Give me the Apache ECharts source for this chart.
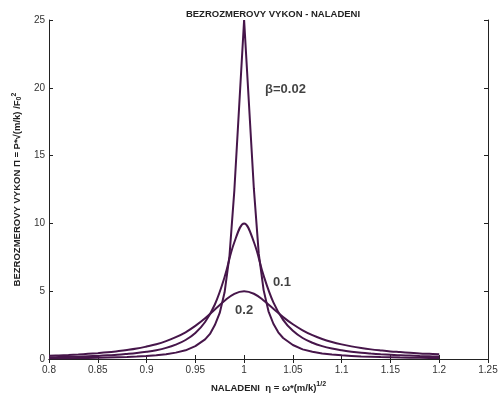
<!DOCTYPE html>
<html>
<head>
<meta charset="utf-8">
<script src="https://cdn.jsdelivr.net/npm/echarts@6/dist/echarts.min.js"></script>
<style>
html,body{margin:0;padding:0;background:#fff;}
#c{width:501px;height:398px;}
</style>
</head>
<body>
<div id="c"></div>
<script>
const eta = [0.80,0.81,0.82,0.83,0.84,0.85,0.86,0.87,0.88,0.89,0.90,0.91,0.92,0.93,0.94,0.95,0.96,0.97,0.98,0.99,1.00,
             1.01,1.02,1.03,1.04,1.05,1.06,1.07,1.08,1.09,1.10,1.11,1.12,1.13,1.14,1.15,1.16,1.17,1.18,1.19,1.20];
const etaA = [0.80,0.81,0.82,0.83,0.84,0.85,0.86,0.87,0.88,0.89,0.90,0.91,0.92,0.93,0.94,0.95,0.96,0.965,0.97,0.975,0.98,0.985,0.99,1.00,
              1.01,1.015,1.02,1.025,1.03,1.035,1.04,1.05,1.06,1.07,1.08,1.09,1.10,1.11,1.12,1.13,1.14,1.15,1.16,1.17,1.18,1.19,1.20];
const beta002 = [0.05,0.06,0.06,0.07,0.08,0.09,0.11,0.13,0.15,0.18,0.22,0.28,0.35,0.47,0.64,0.95,1.45,1.85,2.5,3.4,4.92,7.61,12.44,25,
                 12.56,7.77,5.08,3.52,2.6,1.97,1.55,1.03,0.71,0.53,0.41,0.33,0.27,0.23,0.19,0.17,0.14,0.13,0.11,0.10,0.09,0.08,0.07];
const beta01 = [0.12,0.14,0.15,0.17,0.20,0.23,0.27,0.31,0.37,0.44,0.53,0.65,0.82,1.06,1.40,1.92,2.73,4.02,6.05,8.61,10,
                8.63,6.15,4.17,2.89,2.08,1.55,1.20,0.95,0.77,0.64,0.54,0.46,0.40,0.35,0.31,0.27,0.25,0.22,0.20,0.18];
const beta02 = [0.24,0.26,0.29,0.33,0.38,0.43,0.49,0.57,0.66,0.77,0.92,1.09,1.32,1.61,1.97,2.44,3.00,3.65,4.30,4.81,5,
                4.81,4.32,3.70,3.09,2.56,2.12,1.76,1.48,1.26,1.08,0.93,0.81,0.71,0.63,0.56,0.51,0.46,0.41,0.38,0.35];
const curveLabels = ['\u03b2=0.02', '0.1', '0.2'];
const labelX = [1.0215, 1.0295, 1.0];
const labelY = [19.9, 5.65, 3.55];
const xTicks = [0.8,0.85,0.9,0.95,1,1.05,1.1,1.15,1.2,1.25];
const yTicks = [0,5,10,15,20,25];

const FONT = '"Liberation Sans", Arial, sans-serif';
const LINE = '#46164a';
const AX = '#222';

function pairs(xs, ys){ return xs.map((x,i)=>[x, ys[i]]); }

const chart = echarts.init(document.getElementById('c'), null, {renderer:'canvas'});
const axisCommon = {
  axisLine:{show:true, lineStyle:{color:AX, width:1}},
  axisTick:{show:true, inside:true, length:4, lineStyle:{color:AX}},
  splitLine:{show:false}
};
chart.setOption({
  animation:false,
  backgroundColor:'#fff',
  title:{
    text:'BEZROZMEROVY VYKON - NALADENI',
    left:268, top:4, textAlign:'center',
    textStyle:{fontFamily:FONT, fontSize:9.5, fontWeight:'bold', color:'#222'}
  },
  grid:{left:49, right:13, top:20, bottom:36, containLabel:false},
  xAxis:[
    Object.assign({
      type:'value', min:xTicks[0], max:xTicks[xTicks.length-1], interval:0.05, position:'bottom',
      axisLabel:{fontFamily:FONT, fontSize:10, color:'#333', margin:6,
        formatter:v=>String(+v.toFixed(2))},
      name:'NALADENI  \u03b7 = \u03c9*(m/k){sup|1/2}',
      nameLocation:'middle', nameGap:22,
      nameTextStyle:{fontFamily:FONT, fontSize:9.5, fontWeight:'bold', color:'#222',
        rich:{sup:{fontFamily:FONT, fontSize:7, fontWeight:'bold', color:'#222', padding:[0,0,7,0]}}}
    }, axisCommon),
    Object.assign({
      type:'value', min:xTicks[0], max:xTicks[xTicks.length-1], interval:0.05, position:'top',
      axisLabel:{show:false}
    }, axisCommon)
  ],
  yAxis:[
    Object.assign({
      type:'value', min:yTicks[0], max:yTicks[yTicks.length-1], interval:5, position:'left',
      axisLabel:{fontFamily:FONT, fontSize:10, color:'#333', margin:4},
      name:'BEZROZMEROVY VYKON \u03a0 = P*\u221a(m/k) /F{sub|0}{sup|2}',
      nameLocation:'middle', nameGap:12, nameRotate:90,
      nameTextStyle:{fontFamily:FONT, fontSize:9.5, fontWeight:'bold', color:'#222', padding:[0,0,0,0],
        rich:{sup:{fontFamily:FONT, fontSize:7, fontWeight:'bold', color:'#222', padding:[0,0,7,0]},
              sub:{fontFamily:FONT, fontSize:7, fontWeight:'bold', color:'#222', padding:[4,0,0,0]}}}
    }, axisCommon),
    Object.assign({
      type:'value', min:yTicks[0], max:yTicks[yTicks.length-1], interval:5, position:'right',
      axisLabel:{show:false}
    }, axisCommon)
  ],
  series:[
    {type:'line', data:pairs(etaA, beta002), showSymbol:false, smooth:false,
     lineStyle:{color:LINE, width:2}, z:3},
    {type:'line', data:pairs(eta, beta01), showSymbol:false, smooth:0.4,
     lineStyle:{color:LINE, width:2}, z:3},
    {type:'line', data:pairs(eta, beta02), showSymbol:false, smooth:0.4,
     lineStyle:{color:LINE, width:2}, z:3},
    {type:'scatter', symbolSize:0, silent:true, z:5,
     data:curveLabels.map((t,i)=>({value:[labelX[i], labelY[i]], name:t,
       label:{align: i===2 ? 'center' : 'left'}})),
     label:{show:true, position:'inside', formatter:p=>p.name, verticalAlign:'middle',
       fontFamily:FONT, fontSize:13, fontWeight:'bold', color:'#111'}}
  ]
});
</script>
</body>
</html>
